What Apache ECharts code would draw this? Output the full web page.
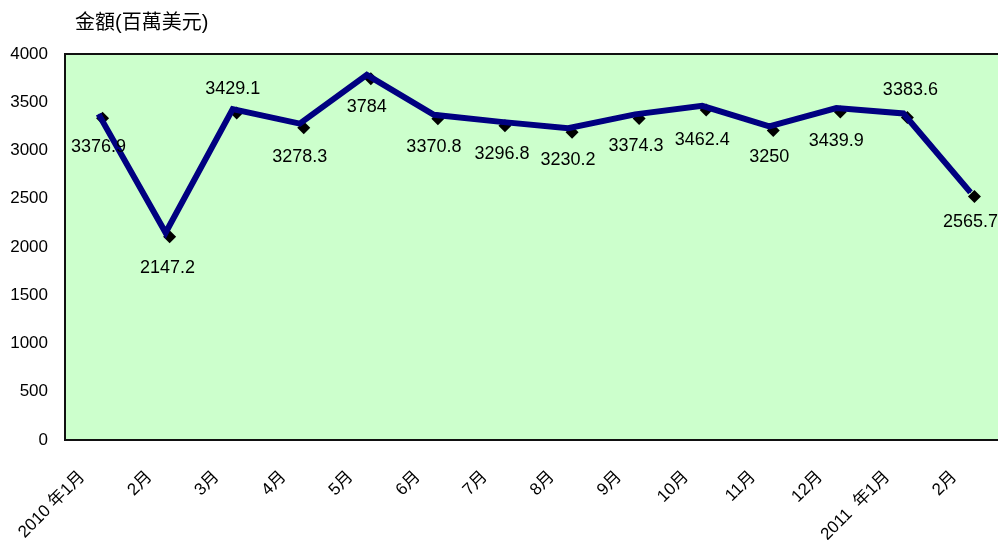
<!DOCTYPE html>
<html>
<head>
<meta charset="utf-8">
<script src="https://cdn.jsdelivr.net/npm/echarts@6/dist/echarts.min.js"></script>
<style>
html,body{margin:0;padding:0;background:#fff;}
#chart{width:998px;height:540px;}
</style>
</head>
<body>
<div id="chart"></div>
<script>
var categories = ['2010 年1月','2月','3月','4月','5月','6月','7月','8月','9月','10月','11月','12月','2011  年1月','2月'];
var values = [3376.9, 2147.2, 3429.1, 3278.3, 3784, 3370.8, 3296.8, 3230.2, 3374.3, 3462.4, 3250, 3439.9, 3383.6, 2565.7];
var yTicks = [0, 500, 1000, 1500, 2000, 2500, 3000, 3500, 4000];
var titleText = '金額(百萬美元)';
// label offsets (presentation only)
var labelOffsets = [[0,33],[2,35],[0,-20],[0,33],[0,32],[0,32],[1,32],[0,32],[1,32],[0,34],[0,31],[0,33],[7,-23],[0,30]];

var font = '"Liberation Sans", Arial, "Noto Sans CJK TC", sans-serif';
var chart = echarts.init(document.getElementById('chart'), null, {renderer:'canvas'});
var lineData = values.map(function(v,i){
  return {value:v, label:{offset:labelOffsets[i]}};
});
chart.setOption({
  animation:false,
  backgroundColor:'#ffffff',
  title:{text:titleText,left:70,top:8,textStyle:{fontFamily:font,fontSize:20,fontWeight:'normal',color:'#000'}},
  grid:{left:65,top:54,bottom:100,width:939,containLabel:false,outerBoundsMode:'none',show:true,backgroundColor:'#CCFFCC',borderColor:'#111',borderWidth:2},
  xAxis:{type:'category',data:categories,boundaryGap:true,
    axisLine:{show:true,lineStyle:{color:'#111',width:2}},axisTick:{show:false},
    axisLabel:{rotate:45,margin:18,interval:0,padding:[0,23,0,0],fontFamily:font,fontSize:17,color:'#000'}},
  yAxis:{type:'value',min:yTicks[0],max:yTicks[yTicks.length-1],interval:500,
    splitLine:{show:false},axisLine:{show:true,lineStyle:{color:'#111',width:2}},axisTick:{show:false},
    axisLabel:{margin:17,fontFamily:font,fontSize:17,color:'#000',formatter:function(v){return String(v);}}},
  series:[
    {type:'line',data:values,z:2,symbol:'diamond',symbolSize:13,symbolOffset:[4,4],
     lineStyle:{width:0,opacity:0},itemStyle:{color:'#000'},silent:true},
    {type:'line',data:lineData,z:3,symbol:'circle',symbolSize:1,showSymbol:true,
     lineStyle:{width:6,color:'#000080',join:'miter',cap:'butt'},itemStyle:{color:'#000080'},
     label:{show:true,position:'inside',fontFamily:font,fontSize:18,color:'#000'}}
  ]
});
</script>
</body>
</html>
